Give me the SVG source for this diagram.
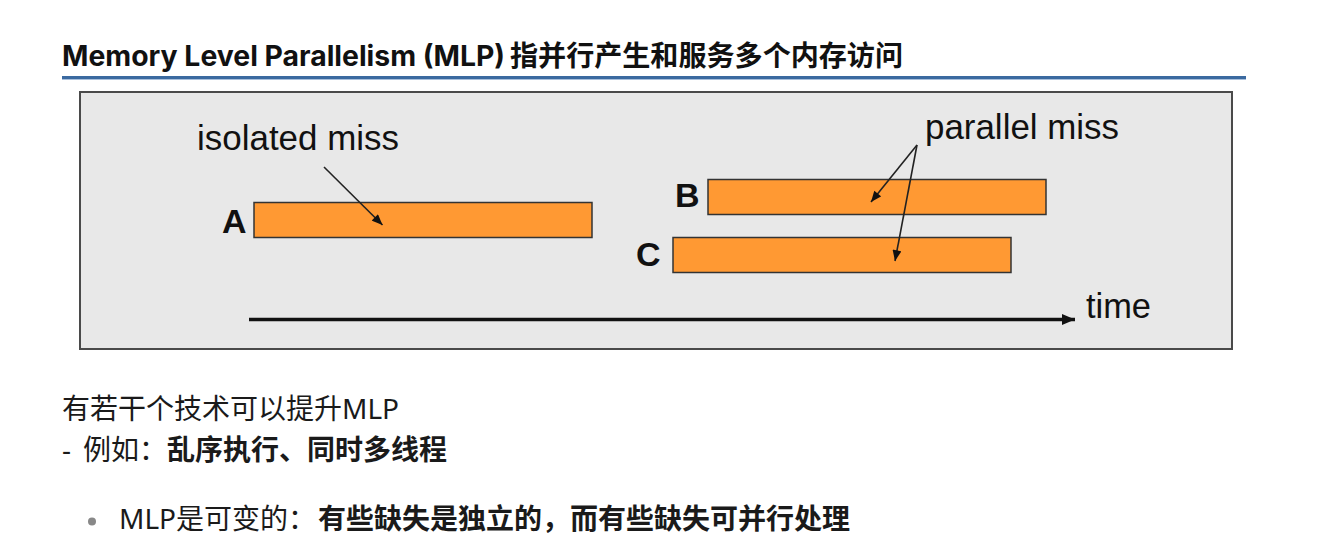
<svg xmlns="http://www.w3.org/2000/svg" width="1322" height="546" viewBox="0 0 1322 546">
  <style>
    .title { font-family: "Inter", "Noto Sans CJK SC", sans-serif; font-weight: 700; font-size: 28px; fill: #111; }
    .titlecjk { font-family: "Noto Sans CJK SC", sans-serif; font-weight: 700; font-size: 28px; fill: #111; }
    .body { font-family: "Noto Sans", "Noto Sans CJK SC", sans-serif; font-size: 28px; fill: #1a1a1a; }
    .bodycjk { font-family: "Noto Sans CJK SC", sans-serif; font-size: 28px; fill: #1a1a1a; }
    .b { font-weight: 700; }
    .lbl { font-family: "Liberation Sans", Arial, sans-serif; font-size: 35px; fill: #111; }
    .letter { font-family: "Liberation Sans", Arial, sans-serif; font-weight: 700; font-size: 34px; fill: #111; }
    .bar { fill: #ff9933; stroke: #333; stroke-width: 1.5; }
    .ptr { stroke: #222; stroke-width: 1.6; fill: none; }
    .axis { stroke: #111; stroke-width: 3.5; fill: none; }
  </style>
  <defs>
    <marker id="ah" viewBox="0 0 12 10" refX="12" refY="5" markerWidth="12" markerHeight="9" markerUnits="userSpaceOnUse" orient="auto">
      <path d="M0,0 L12,5 L0,10 z" fill="#111"/>
    </marker>
    <marker id="ahBig" viewBox="0 0 12 10" refX="12" refY="5" markerWidth="13" markerHeight="11" markerUnits="userSpaceOnUse" orient="auto">
      <path d="M0,0 L12,5 L0,10 z" fill="#111"/>
    </marker>
  </defs>

  <rect width="1322" height="546" fill="#ffffff"/>

  <g id="title">
    <text class="title" x="62" y="66" textLength="443" lengthAdjust="spacingAndGlyphs">Memory Level Parallelism (MLP)</text>
    <text class="titlecjk" x="510" y="66" textLength="393" lengthAdjust="spacingAndGlyphs">指并行产生和服务多个内存访问</text>
    <rect x="62" y="76" width="1184" height="3" fill="#3b6aa0"/>
    <rect x="62" y="79" width="1184" height="1" fill="#a9c0dc"/>
  </g>

  <g id="panel">
    <rect x="80" y="92" width="1152" height="257" fill="#e8e8e8" stroke="#4a4a4a" stroke-width="2"/>
  </g>

  <g id="label-isolated">
    <text class="lbl" x="197" y="150" textLength="202" lengthAdjust="spacingAndGlyphs">isolated miss</text>
  </g>
  <g id="label-parallel">
    <text class="lbl" x="925" y="139" textLength="194" lengthAdjust="spacingAndGlyphs">parallel miss</text>
  </g>

  <g id="node-A">
    <text class="letter" x="222" y="232.5">A</text>
    <rect class="bar" x="254" y="202.5" width="338" height="35"/>
  </g>
  <g id="node-B">
    <text class="letter" x="675" y="206.5">B</text>
    <rect class="bar" x="708" y="179.5" width="338" height="35"/>
  </g>
  <g id="node-C">
    <text class="letter" x="636" y="266">C</text>
    <rect class="bar" x="673" y="237.5" width="338" height="35"/>
  </g>

  <g id="time-axis">
    <text class="lbl" x="1086" y="318" textLength="65" lengthAdjust="spacingAndGlyphs">time</text>
  </g>

  <g id="connectors">
    <line class="ptr" x1="324" y1="167" x2="382.5" y2="225" marker-end="url(#ah)"/>
    <line class="ptr" x1="917" y1="145" x2="871" y2="202" marker-end="url(#ah)"/>
    <line class="ptr" x1="917" y1="145" x2="895" y2="261" marker-end="url(#ah)"/>
    <line class="axis" x1="249" y1="319.5" x2="1075" y2="319.5" marker-end="url(#ahBig)"/>
  </g>

  <g id="notes">
    <text class="body" x="62" y="419"><tspan class="bodycjk">有若干个技术可以提升</tspan>MLP</text>
    <text class="body" x="62" y="460">-</text>
    <text class="bodycjk" x="83" y="460">例如：<tspan class="b">乱序执行、同时多线程</tspan></text>
    <circle cx="92" cy="521.5" r="4" fill="#888"/>
    <text class="body" x="119" y="528.5">MLP<tspan class="bodycjk">是可变的：</tspan></text>
    <text class="bodycjk b" x="318" y="528.5">有些缺失是独立的，而有些缺失可并行处理</text>
  </g>
</svg>
